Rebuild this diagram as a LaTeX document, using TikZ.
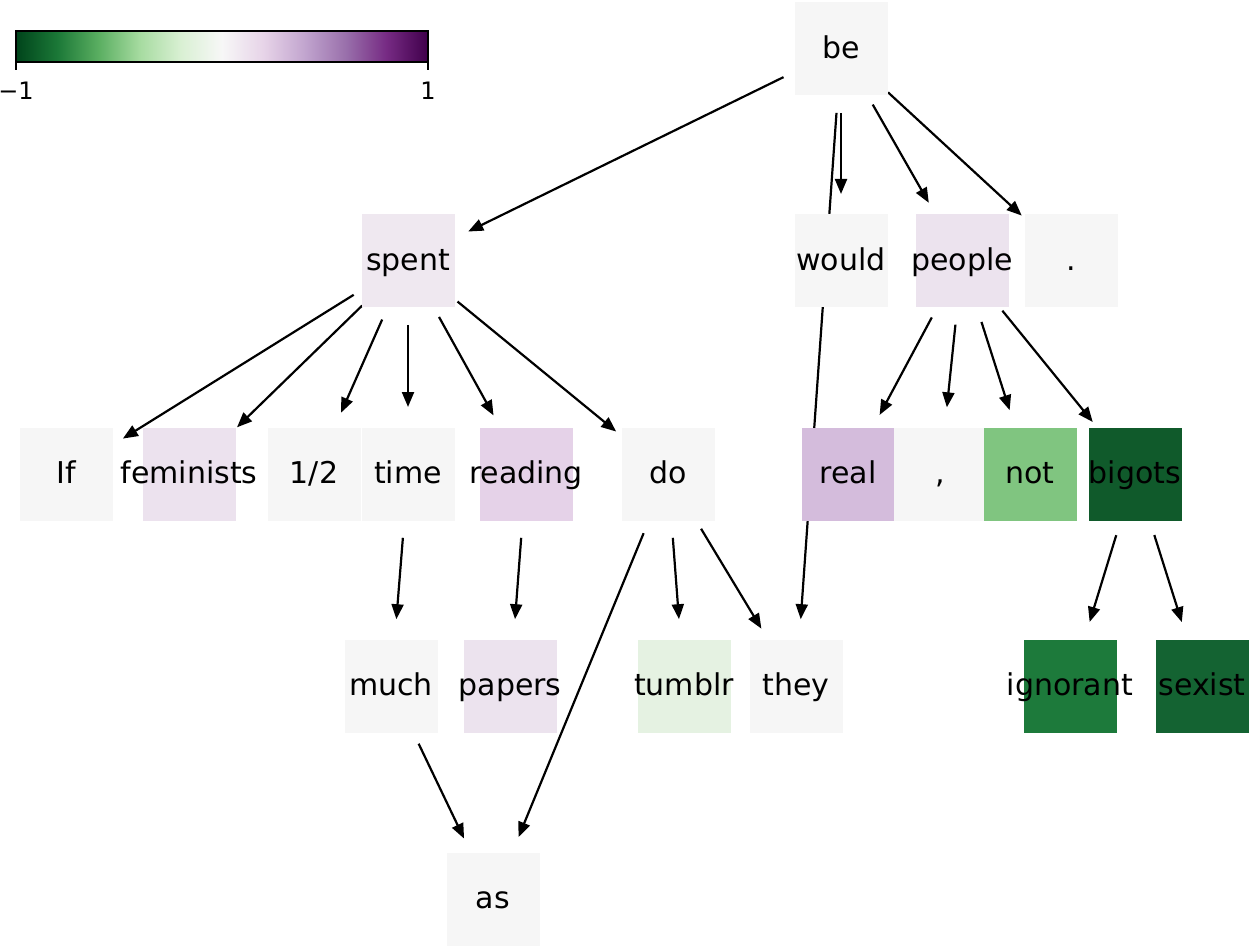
\documentclass[tikz,border=0pt]{standalone}
\usepackage{fontspec}
\setmainfont{DejaVu Sans}
\usetikzlibrary{arrows.meta}
\pgfdeclarelayer{bg}
\pgfsetlayers{bg,main}
\definecolor{neu}{HTML}{F6F6F6}
\definecolor{cSpent}{HTML}{EFE8F0}
\definecolor{cFem}{HTML}{ECE2EE}
\definecolor{cPeople}{HTML}{ECE3EE}
\definecolor{cRead}{HTML}{E5D2E8}
\definecolor{cPap}{HTML}{ECE3EE}
\definecolor{cReal}{HTML}{D4BCDC}
\definecolor{cNot}{HTML}{80C580}
\definecolor{cBig}{HTML}{105A2B}
\definecolor{cIgn}{HTML}{1D7A3B}
\definecolor{cSex}{HTML}{146332}
\definecolor{cTum}{HTML}{E5F2E2}
\definecolor{pg0}{HTML}{00441B}
\definecolor{pg1}{HTML}{1B7837}
\definecolor{pg2}{HTML}{5AAE61}
\definecolor{pg3}{HTML}{A6DBA0}
\definecolor{pg4}{HTML}{D9F0D3}
\definecolor{pg5}{HTML}{F7F7F7}
\definecolor{pg6}{HTML}{E7D4E8}
\definecolor{pg7}{HTML}{C2A5CF}
\definecolor{pg8}{HTML}{9970AB}
\definecolor{pg9}{HTML}{762A83}
\definecolor{pg10}{HTML}{40004B}
\newcommand\tokt[1]{\makebox[0pt]{#1}}
\begin{document}
\begin{tikzpicture}[x=1pt,y=-1pt,
  tok/.style={rectangle, minimum width=93pt, minimum height=93pt, inner sep=0pt,
    fill=#1, text height=25pt, text depth=6pt, font=\fontsize{30}{36}\selectfont},
  tok/.default=neu,
  arr/.style={-{Triangle[length=15pt,width=12pt]}, line width=2.2pt,
    shorten <=64pt, shorten >=67pt},
  cblab/.style={font=\fontsize{24}{28}\selectfont, inner sep=0pt}]
\useasboundingbox (0,0) rectangle (1250,949);

% colour bar
\shade[left color=pg0, right color=pg1] (16,31) rectangle (57.2,62);
\shade[left color=pg1, right color=pg2] (57.2,31) rectangle (98.4,62);
\shade[left color=pg2, right color=pg3] (98.4,31) rectangle (139.6,62);
\shade[left color=pg3, right color=pg4] (139.6,31) rectangle (180.8,62);
\shade[left color=pg4, right color=pg5] (180.8,31) rectangle (222,62);
\shade[left color=pg5, right color=pg6] (222,31) rectangle (263.2,62);
\shade[left color=pg6, right color=pg7] (263.2,31) rectangle (304.4,62);
\shade[left color=pg7, right color=pg8] (304.4,31) rectangle (345.6,62);
\shade[left color=pg8, right color=pg9] (345.6,31) rectangle (386.8,62);
\shade[left color=pg9, right color=pg10] (386.8,31) rectangle (428,62);
\draw[line width=1.4pt] (16,31) rectangle (428,62);
\draw[line width=1.4pt] (16,62) -- (16,70);
\draw[line width=1.4pt] (428,62) -- (428,70);
\node[cblab] (cbmin) at (16,91) {−1};
\node[cblab] (cbmax) at (428,91) {1};

% tokens
\node[tok] (be) at (841,49) {\tokt{be}};
\node[tok=cSpent] (spent) at (408,261) {\tokt{spent}};
\node[tok] (would) at (841,261) {\tokt{would}};
\node[tok=cPeople] (people) at (962,261) {\tokt{people}};
\node[tok] (dot) at (1071,261) {\tokt{.}};
\node[tok] (If) at (66,474) {\tokt{If}};
\node[tok=cFem] (fem) at (189,474) {\tokt{feminists}};
\node[tok] (half) at (314,474) {\tokt{1/2}};
\node[tok] (time) at (408,474) {\tokt{time}};
\node[tok=cRead] (reading) at (526,474) {\tokt{reading}};
\node[tok] (do) at (668,474) {\tokt{do}};
\node[tok=cReal] (real) at (848,474) {\tokt{real}};
\node[tok] (comma) at (940,474) {\tokt{,}};
\node[tok=cNot] (not) at (1030,474) {\tokt{not}};
\node[tok=cBig] (bigots) at (1135,474) {\tokt{bigots}};
\node[tok] (much) at (391,686) {\tokt{much}};
\node[tok=cPap] (papers) at (510,686) {\tokt{papers}};
\node[tok=cTum] (tumblr) at (684,686) {\tokt{tumblr}};
\node[tok] (they) at (796,686) {\tokt{they}};
\node[tok=cIgn] (ignorant) at (1070,686) {\tokt{ignorant}};
\node[tok=cSex] (sexist) at (1202,686) {\tokt{sexist}};
\node[tok] (as) at (493,899) {\tokt{as}};

% edges
\begin{pgfonlayer}{bg}
\draw[arr] (be.center) -- (spent.center);
\draw[arr] (be.center) -- (would.center);
\draw[arr] (be.center) -- (they.center);
\draw[arr] (be.center) -- (people.center);
\draw[arr] (be.center) -- (dot.center);
\draw[arr] (spent.center) -- (If.center);
\draw[arr] (spent.center) -- (fem.center);
\draw[arr] (spent.center) -- (half.center);
\draw[arr] (spent.center) -- (time.center);
\draw[arr] (spent.center) -- (reading.center);
\draw[arr] (spent.center) -- (do.center);
\draw[arr] (people.center) -- (real.center);
\draw[arr] (people.center) -- (comma.center);
\draw[arr] (people.center) -- (not.center);
\draw[arr] (people.center) -- (bigots.center);
\draw[arr] (do.center) -- (as.center);
\draw[arr] (do.center) -- (tumblr.center);
\draw[arr] (do.center) -- (they.center);
\draw[arr] (time.center) -- (much.center);
\draw[arr] (reading.center) -- (papers.center);
\draw[arr] (much.center) -- (as.center);
\draw[arr] (bigots.center) -- (ignorant.center);
\draw[arr] (bigots.center) -- (sexist.center);
\end{pgfonlayer}
\end{tikzpicture}
\end{document}
